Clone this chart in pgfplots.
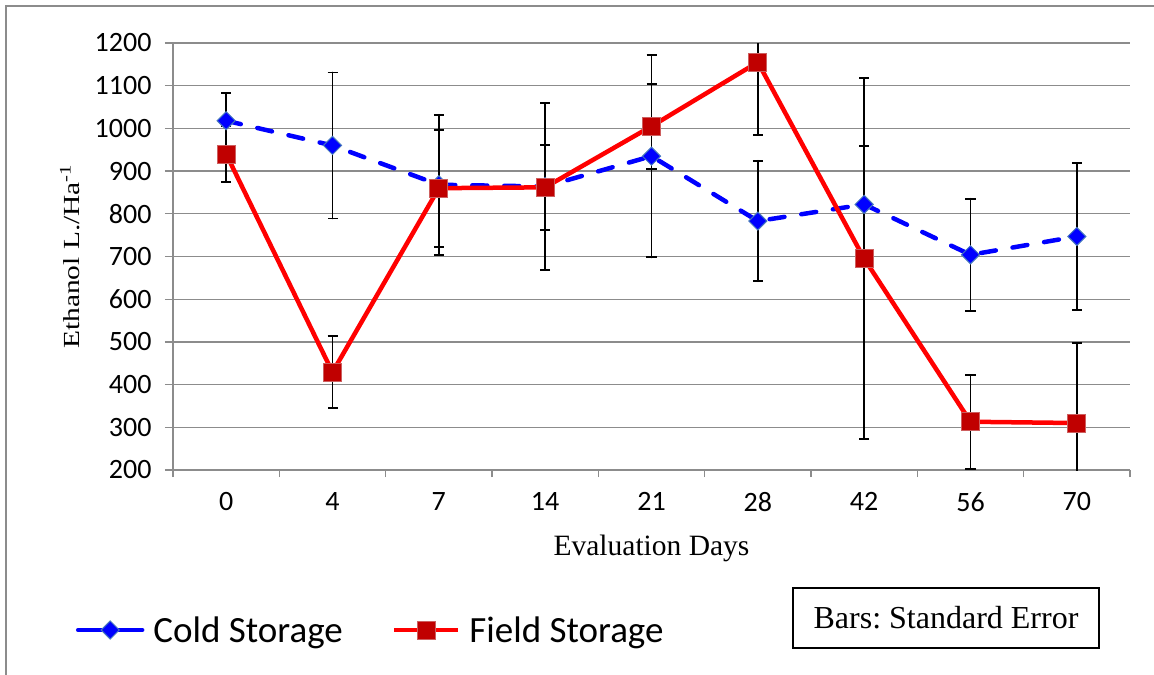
\documentclass[border=0pt]{standalone}
\usepackage{fontspec}
\setmainfont{Liberation Serif}
\newfontfamily\carlito{Carlito}
\usepackage{graphicx}
\usepackage{pgfplots}
\pgfplotsset{compat=1.18}
\usepackage{pgfplotstable}
\definecolor{gridgray}{RGB}{140,140,140}
\definecolor{coldblue}{RGB}{0,0,255}
\definecolor{diamondedge}{RGB}{70,120,190}
\definecolor{fieldred}{RGB}{255,0,0}
\definecolor{squarefill}{RGB}{192,0,0}
\definecolor{squareedge}{RGB}{205,95,95}

\pgfplotsset{
  my legend/.style={legend image code/.code={\draw[mark repeat=2,mark phase=2,##1] plot coordinates {(0bp,0bp) (32bp,0bp) (64bp,0bp)};}},
  solid legend/.style={legend image code/.code={\draw[mark repeat=2,mark phase=2,##1,solid] plot coordinates {(0bp,0bp) (32bp,0bp) (64bp,0bp)};}},
}

\pgfplotstableread{
x y e
0 1018 65
1 960 171
2 868 164
3 864 195
4 935 237
5 783 141
6 822 137
7 704 131
8 747 172
}\cold

\pgfplotstableread{
x y e
0 940 65
1 429 84
2 860 137
3 862 100
4 1005 100
5 1155 170
6 695 422
7 313 110
8 310 187
}\field

\begin{document}
\begin{tikzpicture}
\useasboundingbox (0,0) rectangle (1154bp,-675bp);
\draw[gridgray, line width=1.2bp] (6bp,-675bp) -- (6bp,-6bp) -- (1154bp,-6bp);
\begin{axis}[
  at={(173bp,-43bp)}, anchor=north west,
  scale only axis, width=957bp, height=427bp,
  xmin=-0.5, xmax=8.5, ymin=200, ymax=1200,
  axis x line*=bottom, axis y line*=left,
  axis line style={gridgray, line width=1.3bp, -},
  xtick pos=lower, ytick pos=left,
  xtick={0,...,8}, xticklabels={0,4,7,14,21,28,42,56,70},
  minor xtick={-0.5,0.5,...,8.5},
  ytick={200,300,...,1200},
  ymajorgrids, grid style={gridgray, line width=1.3bp},
  tick align=outside,
  major x tick style={draw=none},
  minor x tick style={gridgray, line width=1.3bp},
  y tick style={gridgray, line width=1.3bp},
  major tick length=8bp, minor tick length=7bp,
  /pgf/number format/assume math mode=true,
  /pgf/number format/1000 sep={},
  ticklabel style={font=\carlito\fontsize{28bp}{32bp}\selectfont, text=black},
  yticklabel style={xshift=-10bp},
  xticklabel style={yshift=-11bp},
  xlabel={Evaluation Days},
  ylabel={\scalebox{1.28}[1]{Ethanol L./Ha\textsuperscript{-1}}},
  xlabel style={font=\fontsize{29.5bp}{33bp}\selectfont, at={(axis description cs:0.5,-0.183)}, anchor=center},
  ylabel style={font=\fontsize{23bp}{28bp}\selectfont, at={(axis description cs:-0.1076,0.5)}, anchor=center},
  legend columns=2,
  legend cell align=left,
  my legend,
  legend style={at={(axis description cs:-0.1014,-0.3747)}, anchor=west, draw=none, fill=none,
    inner sep=0pt, outer sep=0pt,
    font=\carlito\fontsize{37bp}{40bp}\selectfont,
    nodes={inner sep=0pt},
    /tikz/column sep=9bp,
    /tikz/every even column/.append style={column sep=49bp}},
]
\addplot[coldblue, line width=4.5bp, dash pattern=on 15bp off 17bp, line cap=round,
  mark=square*, mark size=6.4bp,
  mark options={solid, rotate=45, fill=coldblue, draw=diamondedge, line width=1bp},
  solid legend,
  error bars/.cd, y dir=both, y explicit,
  error bar style={black, line width=1.9bp, solid},
  error mark options={black, line width=1.9bp, mark size=5bp, solid, rotate=90}]
  table[x=x, y=y, y error=e] {\cold};
\addlegendentry{Cold Storage}
\addplot[fieldred, line width=4.5bp,
  mark=square*, mark size=9bp,
  mark options={solid, fill=squarefill, draw=squareedge, line width=1bp},
  error bars/.cd, y dir=both, y explicit,
  error bar style={black, line width=1.9bp, solid},
  error mark options={black, line width=1.9bp, mark size=5bp, solid, rotate=90}]
  table[x=x, y=y, y error=e] {\field};
\addlegendentry{Field Storage}
\end{axis}
\node[draw=black, line width=1.8bp, minimum width=306bp, minimum height=60bp, inner sep=0pt,
  font=\fontsize{32bp}{36bp}\selectfont] at (946bp,-618bp) {\frenchspacing Bars: Standard Error};
\end{tikzpicture}
\end{document}
